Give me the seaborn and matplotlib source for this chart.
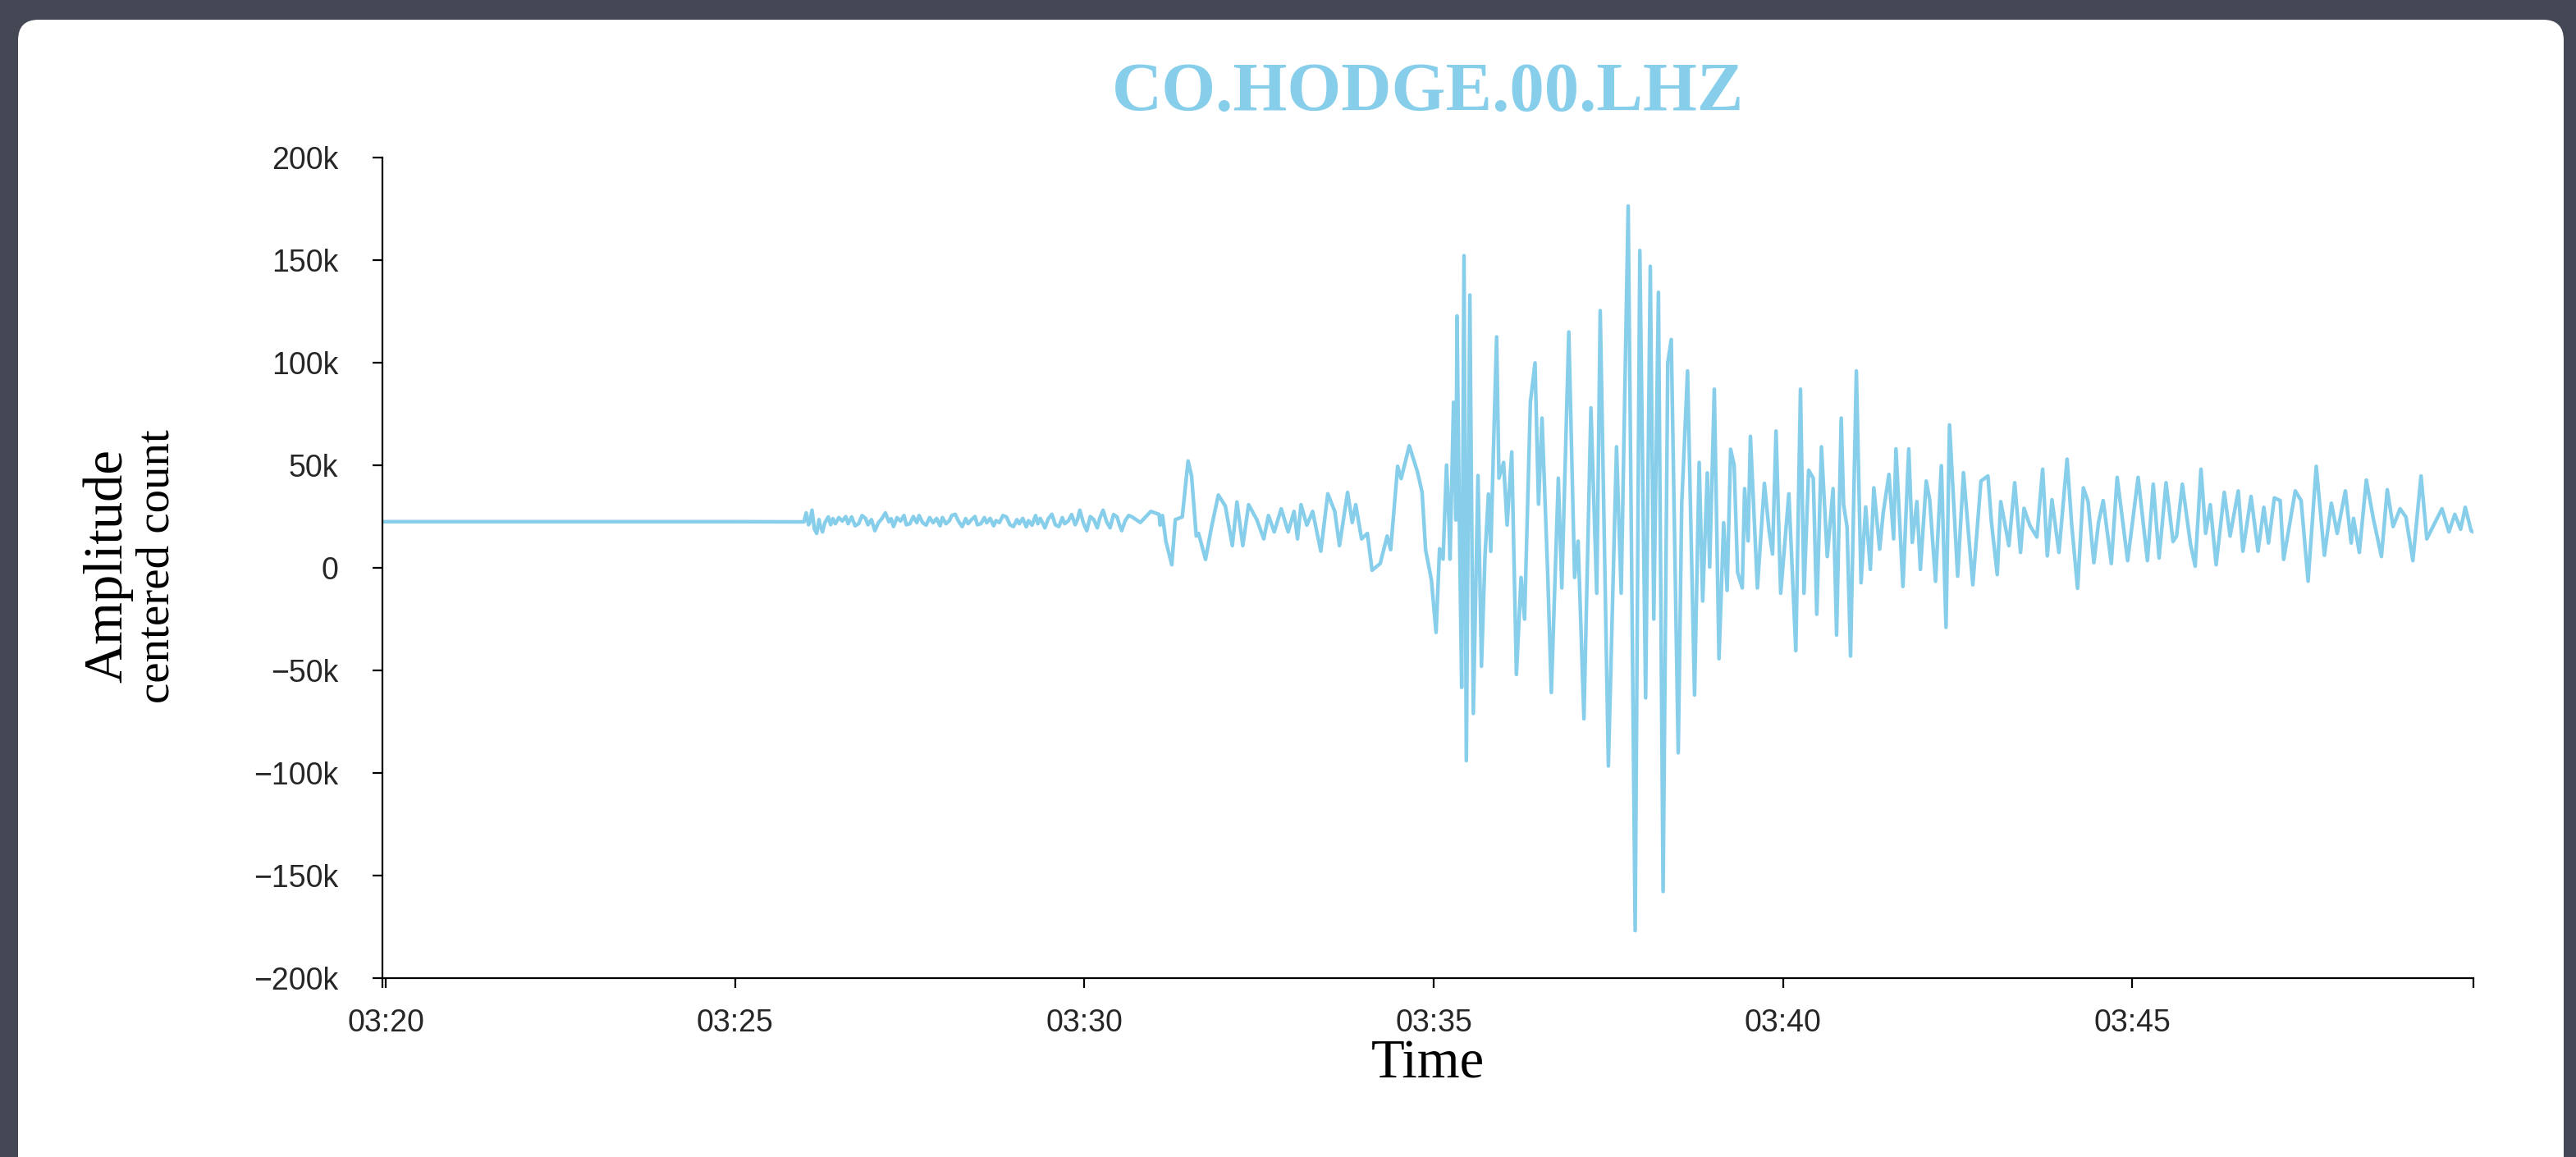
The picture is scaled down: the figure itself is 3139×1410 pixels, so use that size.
import matplotlib
matplotlib.use("Agg")
import matplotlib.pyplot as plt
import matplotlib.dates as mdates
from matplotlib.patches import FancyBboxPatch
from matplotlib.ticker import FuncFormatter
import numpy as np
import pandas as pd
import seaborn as sns

# seconds after 03:20:00, amplitude in thousands of counts
quiet_sec = [-3, 300, 359]
quiet_k = [22.5, 22.5, 22.4]

noise_sec = [361, 363, 364, 366, 368, 370, 372, 373, 375, 377, 380, 382, 384, 386, 389, 392,
             395, 397, 400, 403, 406, 409, 412, 414, 417, 420, 423, 426, 429, 432, 434, 436,
             439, 442, 445, 447, 450, 453, 456, 458, 461, 464, 467, 470, 473, 476, 478, 481,
             484, 486, 489, 492, 495, 498, 500, 503, 506, 508, 511, 514, 516, 519, 522, 524,
             527, 530, 533, 536, 539, 542, 544, 547, 550, 552, 555, 558, 560, 562, 564, 566,
             569, 572, 575, 578, 581, 583, 586, 589, 592, 594, 596, 599, 602, 605, 608, 611,
             613, 616, 619, 622, 625, 628, 630, 632, 635, 638]
noise_k = [26.8, 21.0, 22.1, 28.1, 19.0, 16.8, 23.5, 20.5, 17.5, 22.0, 24.8, 21.0, 24.0, 21.5,
           24.5, 22.8, 25.0, 21.5, 24.8, 20.5, 21.5, 25.5, 24.1, 21.0, 23.5, 18.1, 22.0, 24.0,
           26.8, 22.5, 24.0, 20.1, 24.5, 22.8, 25.5, 21.0, 21.5, 25.0, 22.0, 25.5, 22.0, 20.8,
           24.5, 22.0, 24.1, 20.5, 24.5, 21.5, 23.0, 25.5, 26.1, 22.5, 20.1, 24.0, 21.5, 23.5,
           25.0, 21.0, 21.5, 24.5, 22.0, 24.1, 20.5, 23.0, 22.1, 25.5, 24.8, 21.0, 20.1, 23.5,
           21.5, 24.1, 20.0, 23.0, 20.8, 25.5, 21.5, 24.1, 22.0, 19.5, 24.0, 26.1, 21.0, 20.1,
           24.5, 21.5, 22.8, 26.0, 21.0, 23.5, 28.1, 22.0, 18.1, 25.0, 23.5, 19.5, 24.0, 28.1,
           22.5, 19.5, 26.0, 24.8, 21.0, 18.1, 23.0, 25.5]

p_sec = [641, 648, 657, 664, 665, 667, 670, 675, 678, 684, 689, 692, 696, 698, 704, 709, 715,
         721, 727, 731, 736, 741, 748, 754, 758, 763, 769, 775, 780, 783, 786, 791, 796, 803,
         809, 815, 819, 826, 830, 833, 838, 843, 847, 854, 860, 863, 869, 872, 879, 886, 890,
         893, 898]
p_k = [24.8, 22.1, 27.5, 26.1, 20.8, 25.5, 12.8, 1.5, 23.5, 24.8, 52.1, 44.8, 15.5, 16.8, 4.1,
       19.5, 35.5, 30.1, 10.8, 32.1, 10.8, 30.8, 23.5, 14.1, 25.5, 17.5, 28.8, 17.5, 27.5, 14.1,
       30.8, 20.8, 27.5, 8.1, 36.1, 27.5, 10.8, 36.8, 22.1, 30.8, 14.1, 16.8, -1.2, 2.1, 15.5,
       8.8, 49.5, 43.5, 59.5, 46.8, 36.8, 8.8, -5.9]

s_sec = [902, 905, 908, 911, 913, 914, 917, 919, 920, 922, 924, 926, 928, 931, 934, 938, 941,
         944, 947, 949, 951, 954, 956, 960, 963, 967, 971, 975, 978, 983, 987, 990, 993, 998,
         1001, 1007, 1010, 1016, 1021, 1024, 1029, 1035, 1040, 1043, 1050, 1057, 1061, 1067, 1073]
s_k = [-31.5, 9.3, 4.2, 50.1, 23.3, 4.2, 80.7, 23.3, 122.8, 23.3, -58.3, 152.2, -94.0, 133.0,
       -71.0, 45.0, -48.0, 5.5, 36.0, 8.0, 51.4, 112.6, 43.7, 51.4, 20.8, 56.5, -52.0, -4.7,
       -25.0, 80.7, 99.9, 31.0, 73.0, -4.7, -60.8, 43.7, -9.8, 115.0, -4.7, 13.0, -73.6, 78.0,
       -12.4, 125.4, -96.6, 59.0, -12.4, 176.4, -176.9]

surf_sec = [1077, 1082, 1086, 1089, 1093, 1097, 1101, 1104, 1110, 1113, 1118, 1124, 1128, 1131,
            1135, 1137, 1141, 1145, 1149, 1152, 1155, 1158, 1161, 1165, 1167, 1170, 1172, 1178,
            1184, 1188, 1191, 1194, 1198, 1205, 1211, 1215, 1218, 1222, 1226, 1229, 1233, 1238,
            1243, 1246, 1250, 1252, 1255, 1258, 1263, 1267]
surf_k = [154.7, -63.4, 147.0, -25.0, 134.3, -157.8, 99.9, 111.3, -90.2, 31.0, 96.0, -62.0, 51.4,
          -16.2, 46.3, 0.4, 87.1, -44.3, 22.0, -11.0, 57.8, 50.1, -2.2, -9.8, 38.6, 13.1, 64.1,
          -9.8, 41.2, 18.2, 6.7, 66.7, -12.4, 36.1, -40.4, 87.1, -12.4, 47.6, 43.7, -22.6, 59.0,
          5.5, 38.6, -32.8, 73.0, 31.0, 20.0, -43.0, 96.0, -7.3]

coda_sec = [1271, 1275, 1278, 1283, 1286, 1291, 1295, 1297, 1303, 1308, 1311, 1315, 1318, 1323,
            1326, 1331, 1336, 1340, 1343, 1350, 1355, 1363, 1370, 1376, 1379, 1384, 1387, 1394,
            1399, 1404, 1407, 1412, 1418, 1423, 1427, 1431, 1437, 1444, 1448, 1453, 1458, 1462, 1467]
coda_k = [29.7, -0.8, 39.0, 9.1, 26.5, 45.6, 14.1, 58.0, -9.1, 58.0, 12.4, 32.3, -0.8, 42.3, 33.2,
          -6.6, 49.8, -29.0, 69.7, -4.1, 46.4, -8.3, 42.3, 44.8, 22.4, -3.3, 32.3, 10.8, 41.5,
          7.5, 29.0, 20.7, 15.0, 48.1, 5.8, 33.2, 7.5, 53.0, 20.7, -10.0, 39.0, 32.3, 2.5]

tail_sec = [1471, 1475, 1482, 1487, 1496, 1505, 1513, 1518, 1523, 1529, 1535, 1538, 1543, 1550,
            1554, 1559, 1563, 1567, 1572, 1579, 1584, 1591, 1595, 1602, 1608, 1613, 1617, 1622,
            1627, 1630, 1635, 1640, 1645, 1651, 1658, 1665, 1671, 1676, 1683, 1688, 1690, 1695,
            1701, 1707, 1714, 1719, 1724, 1730, 1735, 1741, 1748, 1753, 1760, 1766, 1772, 1777,
            1782, 1786, 1791, 1793]
tail_k = [22.1, 32.8, 2.1, 44.1, 3.5, 44.1, 3.5, 40.8, 4.8, 41.5, 12.8, 15.5, 40.8, 11.5, 0.8,
          48.1, 16.8, 30.8, 1.5, 36.8, 15.5, 37.5, 8.1, 34.8, 8.1, 29.5, 12.1, 34.1, 32.8, 4.1,
          20.8, 37.5, 32.8, -6.5, 49.5, 6.1, 31.5, 16.8, 37.5, 12.1, 24.1, 7.5, 42.8, 24.1, 5.5,
          38.1, 20.1, 28.8, 24.8, 3.5, 44.8, 14.1, 22.1, 28.8, 17.5, 26.1, 18.8, 29.5, 18.1, 17.5]

y_ticks = [-200000, -150000, -100000, -50000, 0, 50000, 100000, 150000, 200000]
x_tick_minutes = [0, 5, 10, 15, 20, 25]

TITLE = "CO.HODGE.00.LHZ"
LINE_COLOR = "#87ceeb"
T0 = pd.Timestamp("2020-01-01 03:20:00")

secs = quiet_sec + noise_sec + p_sec + s_sec + surf_sec + coda_sec + tail_sec
amps = quiet_k + noise_k + p_k + s_k + surf_k + coda_k + tail_k
df = pd.DataFrame({
    "time": T0 + pd.to_timedelta(secs, unit="s"),
    "amp": np.array(amps) * 1000,
})

sns.set_style("white")
W, H = 3139, 1410
fig = plt.figure(figsize=(W / 100, H / 100), dpi=100)
fig.patch.set_facecolor("#434854")

panel = FancyBboxPatch((0.22, -0.5), 31.02, 14.36,
                       boxstyle="round,pad=0,rounding_size=0.25",
                       transform=fig.dpi_scale_trans, facecolor="white",
                       edgecolor="none", zorder=0)
fig.add_artist(panel)

ax = fig.add_axes([466 / W, 1 - 1192 / H, (3014 - 466) / W, 1000 / H])
ax.set_facecolor("none")

sns.lineplot(data=df, x="time", y="amp", ax=ax, color=LINE_COLOR, lw=3.2,
             estimator=None, sort=False)

ax.set_xlim(df["time"].iloc[0], df["time"].iloc[-1])
ax.set_ylim(-200000, 200000)

ax.set_xticks([T0 + pd.Timedelta(minutes=m) for m in x_tick_minutes])
ax.xaxis.set_major_formatter(mdates.DateFormatter("%H:%M"))
ax.set_xticks([df["time"].iloc[0], df["time"].iloc[-1]], minor=True)
ax.set_yticks(y_ticks)


def kfmt(v, pos):
    if v == 0:
        return "0"
    s = f"{abs(v) / 1000:g}k"
    return ("\u2212" + s) if v < 0 else s


ax.yaxis.set_major_formatter(FuncFormatter(kfmt))

for side in ["top", "right"]:
    ax.spines[side].set_visible(False)
for side in ["left", "bottom"]:
    ax.spines[side].set_color("black")
    ax.spines[side].set_linewidth(1.6)

ax.tick_params(axis="both", which="both", direction="out", length=8.6, width=1.6,
               color="black", bottom=True, left=True)
ax.tick_params(axis="x", which="major", labelsize=27, pad=18)
ax.tick_params(axis="y", which="major", labelsize=27, pad=30)
for lab in ax.get_xticklabels() + ax.get_yticklabels():
    lab.set_fontfamily("Liberation Sans")
ax.set_xlabel("")
ax.set_ylabel("")

fig.text(1740 / W, 1 - 115 / H, TITLE, ha="center", va="center",
         fontsize=61, fontweight="bold", family="Liberation Serif", color=LINE_COLOR)
fig.text(1740 / W, 1 - 1314 / H, "Time", ha="center", va="baseline",
         fontsize=48, family="Liberation Serif", color="black")
fig.text(132 / W, 1 - 690 / H, "Amplitude", ha="center", va="center", rotation=90,
         fontsize=48, family="Liberation Serif", color="black")
fig.text(192 / W, 1 - 690 / H, "centered count", ha="center", va="center", rotation=90,
         fontsize=41, family="Liberation Serif", color="black")

fig.savefig("out.png", dpi=100, facecolor=fig.get_facecolor())
